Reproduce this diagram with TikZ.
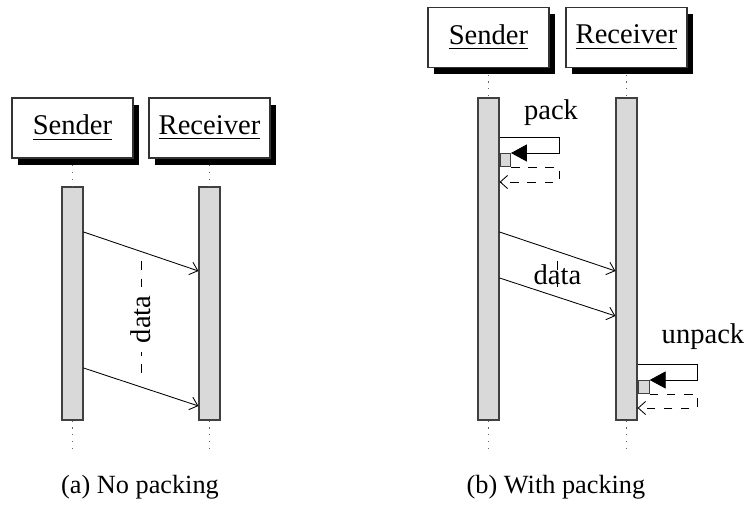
\documentclass[tikz,border=0pt]{standalone}
\usepackage{fontspec}
\setmainfont{Liberation Serif}
\usetikzlibrary{shadows,arrows.meta,calc}

\tikzset{
  inst/.style={draw=black!80, fill=white, minimum width=42.35pt, minimum height=21pt, inner sep=0pt,
    drop shadow={shadow xshift=2.2pt, shadow yshift=-2.3pt, fill=black, opacity=1}},
  bar/.style={draw=black!75, fill=black!15, minimum width=7.35pt, inner sep=0pt},
  life/.style={dotted, black!60},
  mess/.style={line width=0.3pt, -{Straight Barb[length=2.6pt,width=4.6pt]}},
  callmess/.style={line width=0.3pt, -{Triangle[length=5.6pt,width=6pt]}},
  retmess/.style={line width=0.3pt, dashed, -{Straight Barb[length=2.6pt,width=4.6pt]}},
  gap/.style={line width=0.3pt, dashed, shorten <=3.5pt, shorten >=3.5pt},
  caption/.style={font=\fontsize{9.2}{11}\selectfont}
}

\begin{document}
\begin{tikzpicture}[x=0.35pt, y=-0.35pt]
  \useasboundingbox (0,0) rectangle (748,505);

  % (a) no packing
  \node[inst] (send1) at (72.5,128) {\underline{Sender}};
  \node[inst] (recv1) at (209.5,128) {\underline{Receiver}};
  \node[bar, minimum height=81.55pt] (sbar1) at (72.5,303.5) {};
  \node[bar, minimum height=81.55pt] (rbar1) at (209.5,303.5) {};
  \coordinate (send1end) at (72.5,453);
  \coordinate (recv1end) at (209.5,453);
  \draw[life] ([yshift=-2.3pt]send1.south) -- (sbar1.north);
  \draw[life] ([yshift=-2.3pt]recv1.south) -- (rbar1.north);
  \draw[life] (sbar1.south) -- (send1end);
  \draw[life] (rbar1.south) -- (recv1end);

  \coordinate (m1a) at (sbar1.east |- 0,232);
  \coordinate (m1b) at (rbar1.west |- 0,271);
  \coordinate (m2a) at (sbar1.east |- 0,368);
  \coordinate (m2b) at (rbar1.west |- 0,406);
  \draw[mess] (m1a) -- (m1b);
  \draw[mess] (m2a) -- (m2b);
  \draw[gap] ($(m1a)!0.5!(m1b)$) -- ($(m2a)!0.5!(m2b)$)
    node[midway, rotate=90, fill=white, inner sep=3pt] (data1) {data};

  \node[caption] (capa) at (140,487) {(a) No packing};

  % (b) with packing
  \node[inst] (send2) at (488.5,37.5) {\underline{Sender}};
  \node[inst] (recv2) at (626.5,37.5) {\underline{Receiver}};
  \node[bar, minimum height=112.7pt] (sbar2) at (488.5,259) {};
  \node[bar, minimum height=112.7pt] (rbar2) at (626.5,259) {};
  \coordinate (send2end) at (488.5,453);
  \coordinate (recv2end) at (626.5,453);
  \draw[life] ([yshift=-2.3pt]send2.south) -- (sbar2.north);
  \draw[life] ([yshift=-2.3pt]recv2.south) -- (rbar2.north);
  \draw[life] (sbar2.south) -- (send2end);
  \draw[life] (rbar2.south) -- (recv2end);

  % pack
  \node[bar, minimum width=3.6pt, minimum height=4.6pt, anchor=north west] (pbox) at (sbar2.east |- 0,153) {};
  \coordinate (pcall) at (559,137);
  \coordinate (pret) at (559,182);
  \draw[callmess] (sbar2.east |- pcall) -- (pcall) |- (pbox.north east);
  \draw[retmess] (pbox.south east) -- (pbox.south east -| pcall) -- (pret) -- (sbar2.east |- pret);
  \node (pack) at (551,113) {pack};

  % data
  \coordinate (m3a) at (sbar2.east |- 0,232);
  \coordinate (m3b) at (rbar2.west |- 0,271);
  \coordinate (m4a) at (sbar2.east |- 0,278);
  \coordinate (m4b) at (rbar2.west |- 0,316);
  \draw[mess] (m3a) -- (m3b);
  \draw[mess] (m4a) -- (m4b);
  \draw[gap] ($(m3a)!0.5!(m3b)$) -- ($(m4a)!0.5!(m4b)$)
    node[midway, inner sep=1pt] (data2) {data};

  % unpack
  \node[bar, minimum width=3.85pt, minimum height=4.6pt, anchor=north west] (ubox) at (rbar2.east |- 0,380) {};
  \coordinate (ucall) at (697,364);
  \coordinate (uret) at (697,408);
  \draw[callmess] (rbar2.east |- ucall) -- (ucall) |- (ubox.north east);
  \draw[retmess] (ubox.south east) -- (ubox.south east -| ucall) -- (uret) -- (rbar2.east |- uret);
  \node (unpack) at (703,337) {unpack};

  \node[caption] (capb) at (556,487) {(b) With packing};
\end{tikzpicture}
\end{document}
